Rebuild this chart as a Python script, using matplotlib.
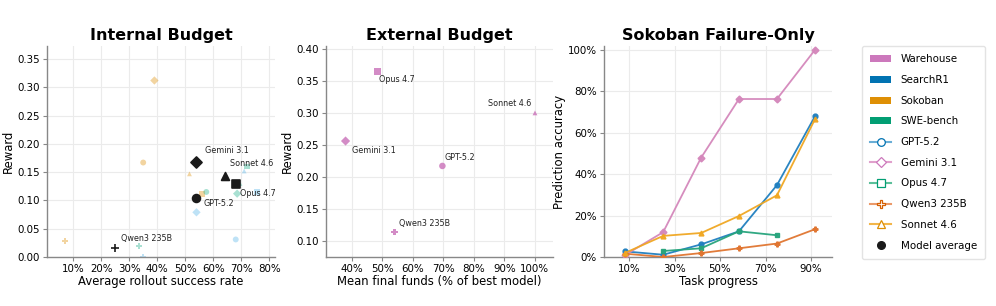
import numpy as np
import matplotlib
matplotlib.use('Agg')
import matplotlib.pyplot as plt
from matplotlib.lines import Line2D
from matplotlib.patches import Patch
from matplotlib.ticker import PercentFormatter

plt.rcParams['font.family'] = ['DejaVu Sans']

# ---- data ----
models = ['GPT-5.2', 'Gemini 3.1', 'Opus 4.7', 'Qwen3 235B', 'Sonnet 4.6']
model_markers = ['o', 'D', 's', 'P', '^']
model_colors = ['#0173B2', '#CC78BC', '#029E73', '#D55E00', '#DE8F05']

domains = ['Warehouse', 'SearchR1', 'Sokoban', 'SWE-bench']
domain_colors = ['#CC78BC', '#0173B2', '#DE8F05', '#029E73']

# internal budget: (success rate, reward) per domain, ordered as models
sokoban_x = [0.35, 0.39, 0.56, 0.07, 0.515]
sokoban_y = [0.167, 0.312, 0.111, 0.028, 0.147]
searchr1_x = [0.68, 0.54, 0.755, 0.35, 0.71]
searchr1_y = [0.031, 0.079, 0.115, 0.0, 0.152]
swe_x = [0.575, 0.685, 0.72, 0.335, 0.695]
swe_y = [0.115, 0.112, 0.160, 0.020, 0.130]
avg_x = [0.54, 0.54, 0.68, 0.25, 0.64]
avg_y = [0.104, 0.168, 0.129, 0.016, 0.143]

# external budget (warehouse)
ext_x = [0.697, 0.38, 0.485, 0.54, 1.00]
ext_y = [0.217, 0.256, 0.365, 0.114, 0.300]

# sokoban failure-only
progress = [0.083, 0.25, 0.417, 0.583, 0.75, 0.917]
acc_gpt = [0.027, 0.011, 0.061, 0.124, 0.347, 0.679]
acc_gemini = [0.010, 0.120, 0.480, 0.763, 0.763, 1.00]
acc_opus = [np.nan, 0.029, 0.042, 0.124, 0.105, np.nan]
acc_qwen = [0.016, 0.000, 0.019, 0.042, 0.065, 0.134]
acc_sonnet = [0.020, 0.102, 0.116, 0.198, 0.298, 0.665]

# ---- figure ----
W, H = 996, 306
fig = plt.figure(figsize=(W / 100, H / 100), dpi=100)


def px_axes(l, r, t, b):
    return fig.add_axes([l / W, (H - b) / H, (r - l) / W, (b - t) / H])


def style(ax):
    ax.grid(True, color='#ebebeb', linewidth=0.8)
    ax.set_axisbelow(True)
    for s in ['top', 'right']:
        ax.spines[s].set_visible(False)
    for s in ['left', 'bottom']:
        ax.spines[s].set_color('#888888')
        ax.spines[s].set_linewidth(1.0)
    ax.tick_params(labelsize=7.4, length=3, color='#888888', width=0.8, pad=2)


ax1 = px_axes(47, 275, 46, 257)
ax2 = px_axes(326, 553, 46, 257)
ax3 = px_axes(604, 832, 46, 257)

TITLE = 11.5
LABEL = 8.4

# Internal budget
for xs, ys, c in [(sokoban_x, sokoban_y, '#DE8F05'),
                  (searchr1_x, searchr1_y, '#56B4E9'),
                  (swe_x, swe_y, '#1fb08a')]:
    for i in range(len(models)):
        ax1.scatter(xs[i], ys[i], marker=model_markers[i], s=18 if model_markers[i] != '^' else 12,
                    color=c, alpha=0.38, edgecolors='none', zorder=2)
for i in range(len(models)):
    ax1.scatter(avg_x[i], avg_y[i], marker=model_markers[i] if models[i] != 'Qwen3 235B' else '+',
                s=32, color='#1a1a1a', linewidths=1.2, zorder=3)

lab_kw = dict(fontsize=5.8, color='#222222', zorder=4)
ax1.text(0.57, 0.184, 'Gemini 3.1', **lab_kw)
ax1.text(0.66, 0.161, 'Sonnet 4.6', **lab_kw)
ax1.text(0.694, 0.108, 'Opus 4.7', **lab_kw)
ax1.text(0.565, 0.090, 'GPT-5.2', **lab_kw)
ax1.text(0.27, 0.028, 'Qwen3 235B', **lab_kw)
ax1.set_xlim(0.007, 0.82)
ax1.set_ylim(0, 0.373)
ax1.set_xticks([0.1, 0.2, 0.3, 0.4, 0.5, 0.6, 0.7, 0.8])
ax1.xaxis.set_major_formatter(PercentFormatter(1.0, decimals=0))
ax1.set_yticks(np.arange(0, 0.36, 0.05))
ax1.set_xlabel('Average rollout success rate', fontsize=LABEL, labelpad=1)
ax1.set_ylabel('Reward', fontsize=LABEL, labelpad=2)
ax1.set_title('Internal Budget', fontsize=TITLE, fontweight='bold', pad=4)
style(ax1)

# External budget
for i in range(len(models)):
    ax2.scatter(ext_x[i], ext_y[i], marker=model_markers[i], s=22 if model_markers[i] != '^' else 12,
                color='#CC78BC', alpha=0.85, edgecolors='none', zorder=3)
ax2.text(0.40, 0.237, 'Gemini 3.1', **lab_kw)
ax2.text(0.49, 0.348, 'Opus 4.7', **lab_kw)
ax2.text(0.845, 0.311, 'Sonnet 4.6', **lab_kw)
ax2.text(0.705, 0.226, 'GPT-5.2', **lab_kw)
ax2.text(0.555, 0.123, 'Qwen3 235B', **lab_kw)
ax2.set_xlim(0.316, 1.059)
ax2.set_ylim(0.0745, 0.4047)
ax2.set_xticks([0.4, 0.5, 0.6, 0.7, 0.8, 0.9, 1.0])
ax2.xaxis.set_major_formatter(PercentFormatter(1.0, decimals=0))
ax2.set_yticks(np.arange(0.10, 0.41, 0.05))
ax2.set_xlabel('Mean final funds (% of best model)', fontsize=LABEL, labelpad=1)
ax2.set_ylabel('Reward', fontsize=LABEL, labelpad=2)
ax2.set_title('External Budget', fontsize=TITLE, fontweight='bold', pad=4)
style(ax2)

# Sokoban failure-only
line_colors = ['#1f7fbf', '#d487bb', '#26a47c', '#e07530', '#f0a722']
for vals, m, c in zip([acc_gpt, acc_gemini, acc_opus, acc_qwen, acc_sonnet],
                      model_markers, line_colors):
    ax3.plot(progress, vals, color=c, linewidth=1.3, marker=m, markersize=3.5,
             markeredgecolor=c, alpha=0.95, zorder=3)
ax3.set_xlim(-0.01, 0.992)
ax3.set_ylim(0, 1.019)
ax3.set_xticks([0.1, 0.3, 0.5, 0.7, 0.9])
ax3.set_yticks([0, 0.2, 0.4, 0.6, 0.8, 1.0])
ax3.xaxis.set_major_formatter(PercentFormatter(1.0, decimals=0))
ax3.yaxis.set_major_formatter(PercentFormatter(1.0, decimals=0))
ax3.set_xlabel('Task progress', fontsize=LABEL, labelpad=1)
ax3.set_ylabel('Prediction accuracy', fontsize=LABEL, labelpad=1.5)
ax3.set_title('Sokoban Failure-Only', fontsize=TITLE, fontweight='bold', pad=4)
style(ax3)

# Legend
handles = [Patch(facecolor=c, edgecolor='none') for c in domain_colors]
leg_line_colors = ['#6aaed6', '#e0a0cc', '#5cbf9a', '#eb9a6a', '#f2b64a']
for m, c, mc in zip(model_markers, leg_line_colors, model_colors):
    handles.append(Line2D([0], [0], color=c, linewidth=1.5, marker=m, markersize=5.5,
                          markerfacecolor='white', markeredgecolor=mc, markeredgewidth=0.9))
handles.append(Line2D([0], [0], color='none', marker='o', markersize=5.5,
                      markerfacecolor='#1a1a1a', markeredgecolor='#1a1a1a'))
labels = domains + models + ['Model average']
fig.legend(handles, labels, loc='upper left', bbox_to_anchor=(857 / W, (H - 41) / H),
           fontsize=7.4, frameon=True, edgecolor='#dddddd', handlelength=2.0,
           labelspacing=1.04, borderpad=0.8, handletextpad=0.95)

fig.savefig('out.png', dpi=100)
